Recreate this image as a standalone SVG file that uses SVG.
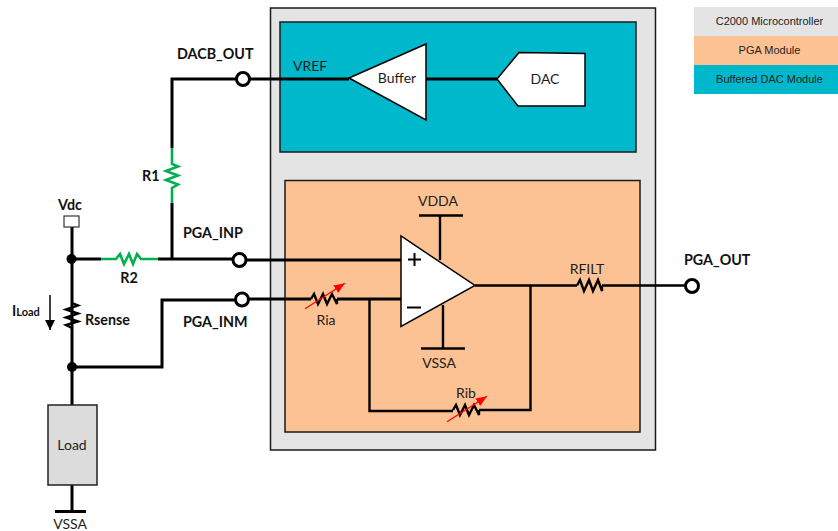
<svg xmlns="http://www.w3.org/2000/svg" width="838" height="531" viewBox="0 0 838 531">
<style>
text{font-family:"Lato","Carlito","Liberation Sans",sans-serif;fill:#1c1c1c;font-size:14px}
.b{font-weight:700;fill:#111;font-size:14.300px}
.lg{font-family:"Liberation Sans",Arial,sans-serif;font-size:11px;text-anchor:middle;fill:#222}
.m{text-anchor:middle}
.w{fill:none;stroke:#000;stroke-width:3;stroke-linejoin:miter;stroke-linecap:butt}
.t{fill:none;stroke:#000;stroke-width:2.400}
.g{fill:none;stroke:#00b050;stroke-width:2.600}
.box{stroke:#1a1a1a;stroke-width:1.500}
.pin{fill:#fff;stroke:#000;stroke-width:3}
.tri{fill:#fff;stroke:#000;stroke-width:1.500}
.red{stroke:#f00;stroke-width:1.300;fill:none;marker-end:url(#ra)}
</style>
<defs>
<marker id="ra" markerUnits="userSpaceOnUse" markerWidth="12" markerHeight="10" refX="11" refY="4.500" orient="auto"><path d="M0 0L11 4.500L0 9Z" fill="#f00"/></marker>
<marker id="ka" markerUnits="userSpaceOnUse" markerWidth="12" markerHeight="12" refX="10" refY="5" orient="auto"><path d="M0 0L10 5L0 10Z" fill="#000"/></marker>
</defs>
<rect width="838" height="531" fill="#fff"/>
<g id="mcu"><rect class="box" x="270.500" y="8" width="385" height="442" fill="#e4e4e4"/></g>
<g id="dac-module"><rect class="box" x="280" y="22" width="356" height="130" fill="#00b8cc"/></g>
<g id="pga-module"><rect class="box" x="285" y="180.500" width="355" height="251.500" fill="#fdc293"/></g>
<g id="legend">
<rect x="694" y="7" width="144" height="29" fill="#e4e4e4"/><text class="lg" x="769.500" y="25">C2000 Microcontroller</text>
<rect x="694" y="36" width="144" height="29" fill="#fdc293"/><text class="lg" x="769.500" y="54">PGA Module</text>
<rect x="694" y="65" width="144" height="29" fill="#00b8cc"/><text class="lg" x="769.500" y="83">Buffered DAC Module</text>
</g>
<g id="connectors">
<path class="w" d="M172 148V79H237M249 79H349"/>
<path class="w" d="M426 79H497"/>
<path class="w" d="M72 227V405M72 259H101M158 259H233M172 259V203"/>
<path class="w" d="M246 260H401"/>
<path class="w" d="M72 367H162V300H236M248 299H311M337 299H401"/>
<path class="t" d="M369.500 299V411H453M479 410H530.500V286"/>
<path class="t" d="M475 285.500H577M602 285.500H686"/>
<path class="t" d="M440 215.500V260M419 215.500H463M443 305V348.500M421 348.500H465"/>
<path class="w" d="M72 485V512M55 511.500H86"/>
<circle cx="71.500" cy="259" r="5"/><circle cx="72" cy="367" r="5"/>
<path d="M50 295V330" fill="none" stroke="#000" stroke-width="1.500" marker-end="url(#ka)"/>
</g>
<g id="r1"><path class="g" d="M172 148V164L178 166.500L166 171L178 175.500L166 180L178 184.500L172 188V203"/><text class="b" x="142" y="181">R1</text></g>
<g id="r2"><path class="g" d="M101 259H116L120 254L124 264L129 254L133 264L137 254L141 259H158"/><text class="b m" x="129" y="283">R2</text></g>
<g id="rsense"><path class="t" d="M72 303L78 305.500L66 309.500L78 313.500L66 317.500L78 321.500L66 325L72 328"/><text class="b" x="85" y="325">Rsense</text></g>
<g id="iload"><text class="b" x="12" y="316">I<tspan font-size="11">Load</tspan></text></g>
<g id="vdc"><rect x="64" y="216" width="15" height="11" fill="#fff" stroke="#333" stroke-width="1.200"/><text class="b m" x="70" y="210">Vdc</text></g>
<g id="dacb-out"><circle class="pin" cx="243" cy="79" r="6.500"/><text class="b" x="177" y="59">DACB_OUT</text></g>
<g id="pga-inp"><circle class="pin" cx="239.500" cy="260" r="6.500"/><text class="b" x="183" y="238">PGA_INP</text></g>
<g id="pga-inm"><circle class="pin" cx="242" cy="299.500" r="6.500"/><text class="b" x="183" y="327">PGA_INM</text></g>
<g id="pga-out"><circle class="pin" cx="692" cy="286" r="6.500"/><text class="b" x="684" y="265">PGA_OUT</text></g>
<g id="buffer"><path class="tri" d="M349 78L426 44V120Z"/><text class="m" x="397" y="83">Buffer</text><text x="293" y="71">VREF</text></g>
<g id="dac"><path class="tri" d="M497 79L519 52.500L585 53.500V106H518Z"/><text class="m" x="545" y="84">DAC</text></g>
<g id="opamp"><path class="tri" d="M401 236V326.500L475 285.500Z"/><path d="M408 259.500H421M414.500 253V266M407 307.500H421" stroke="#000" stroke-width="2" fill="none"/><text class="m" x="438" y="206">VDDA</text><text class="m" x="439" y="368">VSSA</text></g>
<g id="ria"><path class="t" d="M311 299L314 294L318 304L323 294L327 304L332 294L337 304V299"/><path class="red" d="M305 308.700L345 283.300"/><text class="m" x="326" y="325">Ria</text></g>
<g id="rib"><path class="t" d="M453 410L456 405L460 415L465 405L469 415L474 405L479 415V410"/><path class="red" d="M447 421.700L487 396.300"/><text class="m" x="466" y="398">Rib</text></g>
<g id="rfilt"><path class="t" d="M577 285.500L580 280L584 291L589 280L593 291L598 280L602 291V285.500"/><text class="m" x="587" y="274">RFILT</text></g>
<g id="load"><rect x="48" y="405" width="49" height="80" fill="#dcdcdc" stroke="#222" stroke-width="1.500"/><text class="m" x="72" y="450">Load</text><text class="m" x="70" y="529">VSSA</text></g>
</svg>
